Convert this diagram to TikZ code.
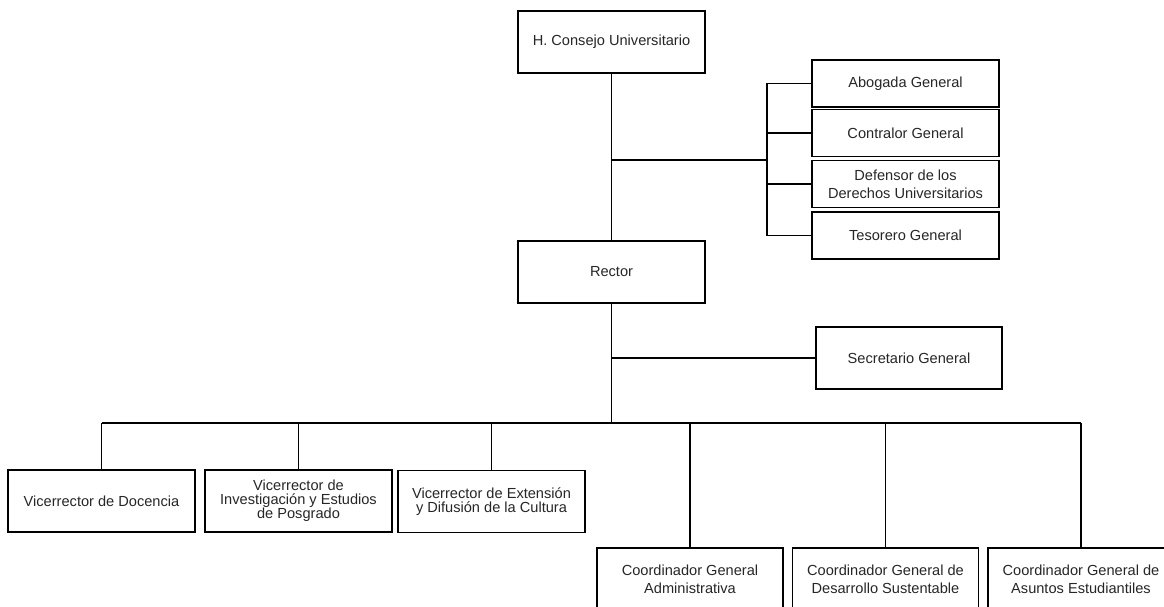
\documentclass[tikz,border=0pt]{standalone}
\usepackage{fontspec}
\setmainfont{Liberation Sans}
\begin{document}
\begin{tikzpicture}[x=1pt,y=-1pt,
  box/.style={draw, line width=1.5pt, align=center, inner sep=0pt,
    minimum width=187pt, minimum height=62pt, text=black!85,
    font=\fontsize{14.6}{18}\selectfont},
  small/.style={box, minimum height=47pt},
  tight/.style={box, font=\fontsize{14.6}{13.5}\selectfont},
  link/.style={line width=1.5pt}]
\useasboundingbox (0,0) rectangle (1164,607);
\clip (0,0) rectangle (1164,607);
% top
\node[box] (consejo) at (611.5,42) {H. Consejo Universitario};
\node[box] (rector) at (611.5,272) {Rector};
\node[small] (abogada) at (905.5,83.5) {Abogada General};
\node[small] (contralor) at (905.5,133) {Contralor General};
\node[small] (defensor) at (905.5,184) {Defensor de los\\Derechos Universitarios};
\node[small] (tesorero) at (905.5,235.5) {Tesorero General};
\node[box, minimum width=186pt] (secretario) at (909,358) {Secretario General};
% bottom
\node[box] (docencia) at (101.5,501) {Vicerrector de Docencia};
\node[tight] (investigacion) at (298.5,501) {Vicerrector de\\Investigación y Estudios\\de Posgrado};
\node[tight] (extension) at (491.5,501.5) {Vicerrector de Extensión\\y Difusión de la Cultura};
\node[box, minimum width=186pt] (admin) at (690,579) {Coordinador General\\Administrativa};
\node[box, minimum width=186pt] (desarrollo) at (885.5,579) {Coordinador General de\\Desarrollo Sustentable};
\node[box, minimum width=186pt] (asuntos) at (1081,579) {Coordinador General de\\Asuntos Estudiantiles};
% coordinates
\coordinate (branch) at (611.5,160);
\coordinate (bracket) at (767,160);
\coordinate (secj) at (611.5,358);
\coordinate (bus) at (611.5,423);
% connectors
\draw[link] (consejo.south) -- (rector.north);
\draw[link] (branch) -- (bracket);
\draw[link] (abogada.west -| bracket) -- (tesorero.west -| bracket);
\foreach \n in {abogada,contralor,defensor,tesorero}
  \draw[link] (\n.west -| bracket) -- (\n.west);
\draw[link] (rector.south) -- (bus);
\draw[link] (secj) -- (secretario.west);
\draw[link] (docencia.north |- bus) -- (asuntos.north |- bus);
\foreach \n in {docencia,investigacion,extension,admin,desarrollo,asuntos}
  \draw[link] (\n.north |- bus) -- (\n.north);
\end{tikzpicture}
\end{document}
